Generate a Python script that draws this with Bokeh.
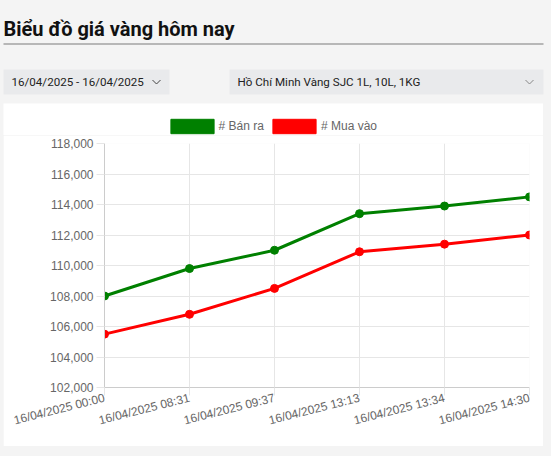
from bokeh.plotting import figure
from bokeh.layouts import column
from bokeh.models import (Range1d, FixedTicker, NumeralTickFormatter, Legend, LegendItem,
                          ColumnDataSource)
from bokeh.core.properties import value
from bokeh.embed import file_html
from bokeh.resources import INLINE

# ---- data ----
time_labels = ["16/04/2025 00:00", "16/04/2025 08:31", "16/04/2025 09:37",
               "16/04/2025 13:13", "16/04/2025 13:34", "16/04/2025 14:30"]
ban_ra = [108000, 109800, 111000, 113400, 113900, 114500]
mua_vao = [105500, 106800, 108500, 110900, 111400, 112000]
series_names = ["# Bán ra", "# Mua vào"]
series_colors = ["#008000", "#ff0000"]
y_ticks = [102000, 104000, 106000, 108000, 110000, 112000, 114000, 116000, 118000]

title_text = "Biểu đồ giá vàng hôm nay"
date_range_text = "16/04/2025 - 16/04/2025"
product_text = "Hồ Chí Minh Vàng SJC 1L, 10L, 1KG"

BG = "#f4f4f4"
BOX = "#e9eaec"


def blank(fig, fill):
    fig.frame_align = False
    fig.axis.visible = False
    fig.grid.visible = False
    fig.outline_line_color = None
    fig.background_fill_color = fill
    fig.border_fill_color = fill


# ---- header (page coordinates, y down) ----
h = figure(width=551, height=103, x_range=Range1d(0, 551), y_range=Range1d(103, 0),
           output_backend="svg", toolbar_location=None,
           min_border=0, min_border_left=0, min_border_right=0,
           min_border_top=0, min_border_bottom=0)
blank(h, BG)

h.text(x=[3], y=[28], text=[title_text], text_font=value("Roboto"), text_font_style="bold",
       text_font_size="20px", text_color="#111111", text_baseline="alphabetic", text_align="left")
h.segment(x0=[3], y0=[43.5], x1=[543], y1=[43.5], line_color="#7a7a7a", line_width=1)

h.quad(left=[3, 229], right=[169, 543], top=[69, 69], bottom=[94, 94],
       fill_color=BOX, line_color=None)
h.text(x=[11, 237], y=[81.5, 81.5], text=[date_range_text, product_text],
       text_font=value("Roboto"), text_font_size="11.6px", text_color="#222222",
       text_baseline="middle", text_align="left")
h.multi_line(xs=[[152, 156, 160], [525, 529, 533]], ys=[[79.5, 83.5, 79.5], [79.5, 83.5, 79.5]],
             line_color=["#444444", "#888888"], line_width=1)

# ---- legend strip ----
lg = figure(width=540, height=32, x_range=Range1d(0, 1), y_range=Range1d(0, 1),
            output_backend="svg", toolbar_location=None,
            min_border=0, min_border_left=0, min_border_right=0,
            min_border_top=0, min_border_bottom=0)
blank(lg, "white")
lg.margin = (0, 0, 0, 3)
items = []
for name, col in zip(series_names, series_colors):
    # swatch renderer kept outside the visible range; only its legend entry shows
    r = lg.rect(x=[-10], y=[-10], width=1, height=1, fill_color=col, line_color=col)
    items.append(LegendItem(label=name, renderers=[r]))
legend = Legend(items=items, orientation="horizontal", location=(161.6, 0),
                glyph_width=54, glyph_height=18, label_height=18, label_standoff=0,
                spacing=3, padding=0, margin=0, border_line_color=None,
                background_fill_alpha=0, label_text_font="Liberation Sans",
                label_text_font_size="12px", label_text_color="#666666")
lg.add_layout(legend, "center")

# ---- chart ----
xs = list(range(len(time_labels)))
p = figure(width=540, height=311, x_range=Range1d(0, len(time_labels) - 1),
           y_range=Range1d(y_ticks[0], y_ticks[-1]),
           output_backend="svg", toolbar_location=None,
           min_border_left=101, min_border_right=14, min_border_top=8, min_border_bottom=59)
p.frame_align = False
p.margin = (0, 0, 0, 3)
p.background_fill_color = "white"
p.border_fill_color = "white"
p.outline_line_color = None

GRID = "#e6e6e6"
p.xaxis.ticker = FixedTicker(ticks=xs)
p.xaxis.major_label_overrides = {i: t for i, t in enumerate(time_labels)}
p.xaxis.major_label_orientation = 0.25
p.yaxis.ticker = FixedTicker(ticks=y_ticks)
p.yaxis.formatter = NumeralTickFormatter(format="0,0")
for ax in (p.xaxis, p.yaxis):
    ax.axis_line_color = "#cccccc"
    ax.major_tick_line_color = GRID
    ax.major_tick_out = 8
    ax.major_tick_in = 0
    ax.minor_tick_line_color = None
    ax.major_label_text_font = "Liberation Sans"
    ax.major_label_text_font_size = "12px"
    ax.major_label_text_color = "#666666"
p.yaxis.major_label_standoff = 3
p.xaxis.major_label_standoff = 2
p.xgrid.ticker = FixedTicker(ticks=xs)
p.ygrid.ticker = FixedTicker(ticks=y_ticks)
p.grid.grid_line_color = GRID

for vals, col in zip([ban_ra, mua_vao], series_colors):
    src = ColumnDataSource(dict(x=xs, y=vals))
    p.line("x", "y", source=src, line_color=col, line_width=3)
    p.scatter("x", "y", source=src, size=8, fill_color=col, line_color=col)

layout = column(h, lg, p, spacing=0)
html = file_html(layout, INLINE)
html = html.replace("</head>", "<style>body{background:#f4f4f4;}</style></head>", 1)
open("out.html", "w").write(html)
